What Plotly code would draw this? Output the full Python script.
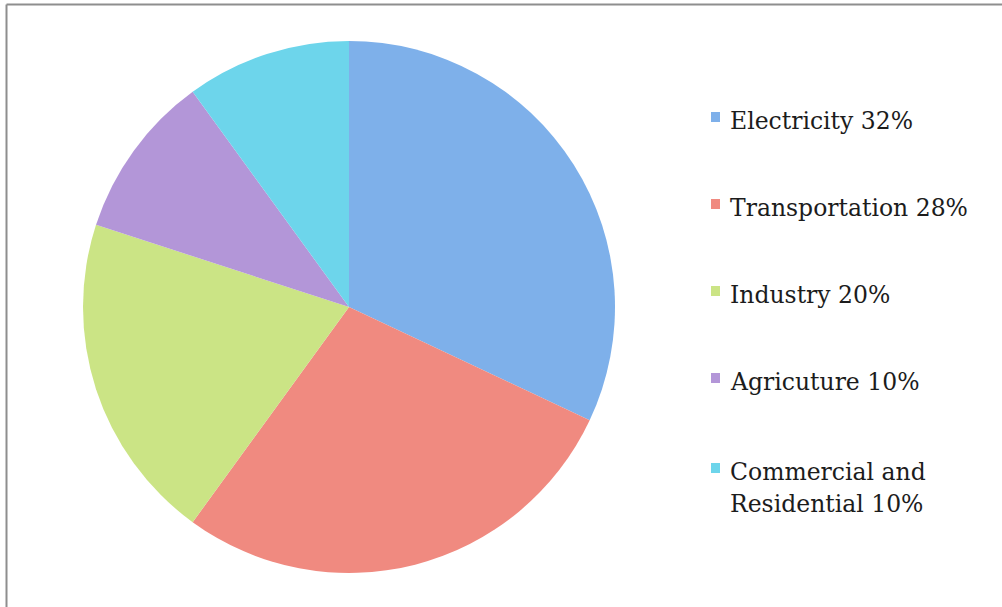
import plotly.graph_objects as go

labels = ["Electricity", "Transportation", "Industry", "Agriculture", "Commercial and Residential"]
values = [32, 28, 20, 10, 10]
legend_lines = [["Electricity 32%"], ["Transportation 28%"], ["Industry 20%"], ["Agricuture 10%"],
                ["Commercial and", "Residential 10%"]]
colors = ["#7eb0ea", "#f08a80", "#cbe485", "#b396d8", "#6dd5eb"]

W, H = 1002, 607


def px_x(x):
    return x / W


def px_y(y):
    return 1 - y / H


fig = go.Figure()
fig.add_trace(go.Pie(
    labels=labels, values=values, sort=False, direction="clockwise", rotation=0,
    marker=dict(colors=colors, line=dict(width=0)),
    textinfo="none", hoverinfo="label+percent", showlegend=False,
    domain=dict(x=[px_x(83), px_x(615)], y=[px_y(573), px_y(41)]),
))

shapes = []
annotations = []
sq_centers = [117, 204, 291, 378, 468]
for i, (lines, col) in enumerate(zip(legend_lines, colors)):
    cy = sq_centers[i]
    shapes.append(dict(type="rect", xref="paper", yref="paper",
                       x0=px_x(711), x1=px_x(720), y0=px_y(cy + 5), y1=px_y(cy - 5),
                       fillcolor=col, line=dict(width=0)))
    for j, t in enumerate(lines):
        annotations.append(dict(text=t, xref="paper", yref="paper", x=px_x(728),
                                y=px_y(cy + 4 + 32 * j), xanchor="left", yanchor="middle",
                                showarrow=False,
                                font=dict(family="DejaVu Serif", size=23.5, color="#1c1c1c")))

# frame lines
shapes.append(dict(type="line", xref="paper", yref="paper", x0=px_x(6.5), x1=px_x(6.5),
                   y0=0, y1=px_y(4.5), line=dict(color="#8e8e8e", width=2)))
shapes.append(dict(type="line", xref="paper", yref="paper", x0=px_x(6.5), x1=1,
                   y0=px_y(4.5), y1=px_y(4.5), line=dict(color="#8e8e8e", width=2)))

fig.update_layout(
    width=W, height=H, margin=dict(l=0, r=0, t=0, b=0),
    paper_bgcolor="white", plot_bgcolor="white",
    shapes=shapes, annotations=annotations,
)

fig.write_html("out.html")
